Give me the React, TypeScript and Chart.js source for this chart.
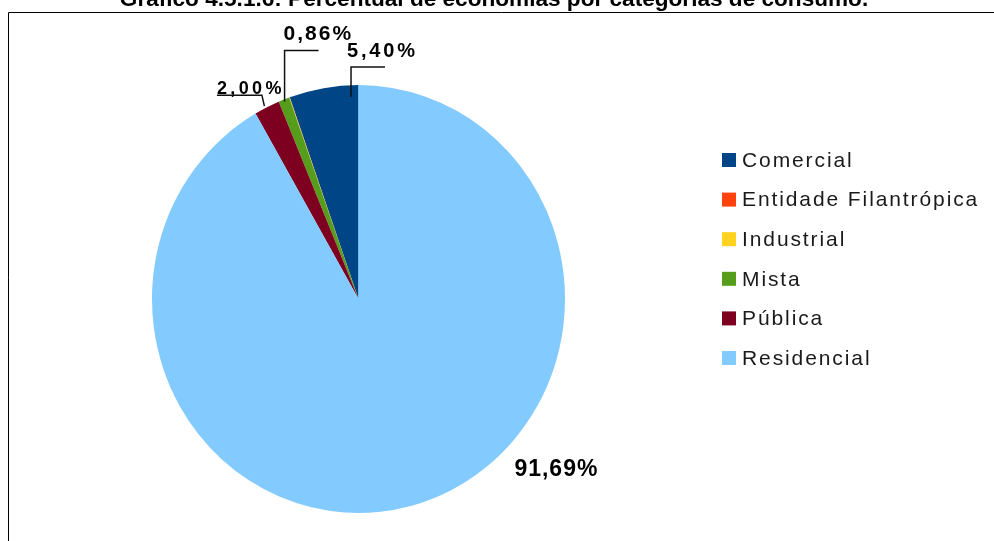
import React, { useEffect, useRef } from "react";
import { Chart, registerables } from "chart.js";

Chart.register(...registerables);

const TITLE = "Gráfico 4.5.1.6: Percentual de economias por categorias de consumo.";
const categories = ["Comercial", "Entidade Filantrópica", "Industrial", "Mista", "Pública", "Residencial"];
const shares = [5.4, 0.02, 0.03, 0.86, 2.0, 91.69];
const colors = ["#004586", "#ff420e", "#ffd320", "#579d1c", "#7e0021", "#83caff"];

// Label placement (style only): position inside the slice + leader segments
const labelLayouts: any[] = [
  { frac: 0.113, rf: 0.945, leader: [[0, -30], [34, 0]], textDx: -4, textDy: -40, size: 20, spacing: 2.8, align: "left" },
  null,
  null,
  { frac: 0.51, rf: 0.99, leader: [[0, -51], [34, 0]], textDx: -1, textDy: -62, size: 21, spacing: 2, align: "left" },
  { frac: 0.57, rf: 1.01, leader: [[-2.5, -11], [-45, 0]], textDx: -47.5, textDy: -12, size: 18, spacing: 3.4, align: "left" },
  { frac: 0.608, rf: 1.24, leader: [], textDx: 0, textDy: 9, size: 23, spacing: 1, align: "center" },
];

const SY = 1.036; // vertical stretch of the pie (reference pie is slightly oval)
const FONT = '"Liberation Sans", Arial, sans-serif';

const fmt = (v: number) => v.toFixed(2).replace(".", ",") + "%";

const App = () => {
  const ref = useRef<HTMLCanvasElement | null>(null);
  useEffect(() => {
    const canvas = ref.current!;
    const getCenter = (chart: any) => {
      const el = chart.getDatasetMeta(0).data[0] as any;
      return { cx: el.x, cy: el.y };
    };
    const flipPlugin = {
      id: "flip",
      beforeDatasetsDraw(chart: any) {
        const { ctx } = chart;
        const { cx, cy } = getCenter(chart);
        ctx.save();
        ctx.translate(cx, cy);
        ctx.scale(-1, SY);
        ctx.translate(-cx, -cy);
      },
      afterDatasetsDraw(chart: any) {
        chart.ctx.restore();
      },
    };
    const decoPlugin = {
      id: "deco",
      beforeDraw(chart: any) {
        const { ctx, width, height } = chart;
        ctx.save();
        ctx.fillStyle = "#ffffff";
        ctx.fillRect(0, 0, width, height);
        ctx.restore();
      },
      afterDraw(chart: any) {
        const { ctx } = chart;
        ctx.save();
        // frame
        ctx.strokeStyle = "#000";
        ctx.lineWidth = 1;
        ctx.beginPath();
        ctx.moveTo(8.5, 560);
        ctx.lineTo(8.5, 12.5);
        ctx.lineTo(1000, 12.5);
        ctx.stroke();
        // title
        ctx.fillStyle = "#000";
        ctx.font = `bold 22.6px ${FONT}`;
        ctx.textAlign = "center";
        ctx.textBaseline = "alphabetic";
        ctx.fillText(TITLE, 494, 6);
        // data labels
        const meta = chart.getDatasetMeta(0);
        meta.data.forEach((el: any, i: number) => {
          const lay = labelLayouts[i];
          if (!lay) return;
          const a = el.startAngle + lay.frac * (el.endAngle - el.startAngle);
          const r = el.outerRadius * lay.rf;
          const ax = el.x - r * Math.cos(a);
          const ay = el.y + SY * r * Math.sin(a);
          if (lay.leader.length) {
            ctx.strokeStyle = "#111";
            ctx.lineWidth = 1.5;
            ctx.beginPath();
            let px = ax, py = ay;
            ctx.moveTo(px, py);
            lay.leader.forEach(([dx, dy]: number[]) => {
              px += dx; py += dy;
              ctx.lineTo(px, py);
            });
            ctx.stroke();
          }
          ctx.fillStyle = "#000";
          ctx.font = `bold ${lay.size}px ${FONT}`;
          (ctx as any).letterSpacing = `${lay.spacing}px`;
          ctx.textAlign = lay.align;
          ctx.textBaseline = "alphabetic";
          ctx.fillText(fmt(shares[i]), ax + lay.textDx, ay + lay.textDy);
        });
        // legend
        (ctx as any).letterSpacing = "1.9px";
        ctx.font = `21px ${FONT}`;
        ctx.textAlign = "left";
        ctx.textBaseline = "middle";
        categories.forEach((c, i) => {
          const y = 160 + i * 39.6;
          ctx.fillStyle = colors[i];
          ctx.fillRect(722, y - 7, 14, 14);
          ctx.fillStyle = "#1a1a1a";
          ctx.fillText(c, 742, y + 1);
        });
        ctx.restore();
      },
    };
    const chart = new Chart(canvas, {
      type: "pie",
      data: {
        labels: categories,
        datasets: [
          {
            data: shares,
            backgroundColor: colors,
            borderWidth: 0,
            clip: false as any,
          },
        ],
      },
      options: {
        responsive: false,
        animation: false,
        devicePixelRatio: 1,
        events: [],
        layout: { padding: { left: 152, right: 429, top: 92.5, bottom: 35.5 } },
        plugins: {
          legend: { display: false },
          title: { display: false },
          tooltip: { enabled: false },
        },
      },
      plugins: [flipPlugin, decoPlugin],
    });
    return () => chart.destroy();
  }, []);
  return (
    <div style={{ position: "fixed", left: 0, top: 0, width: 994, height: 541, background: "#fff" }}>
      <canvas ref={ref} width={994} height={541} style={{ display: "block" }} />
    </div>
  );
};

export default App;
